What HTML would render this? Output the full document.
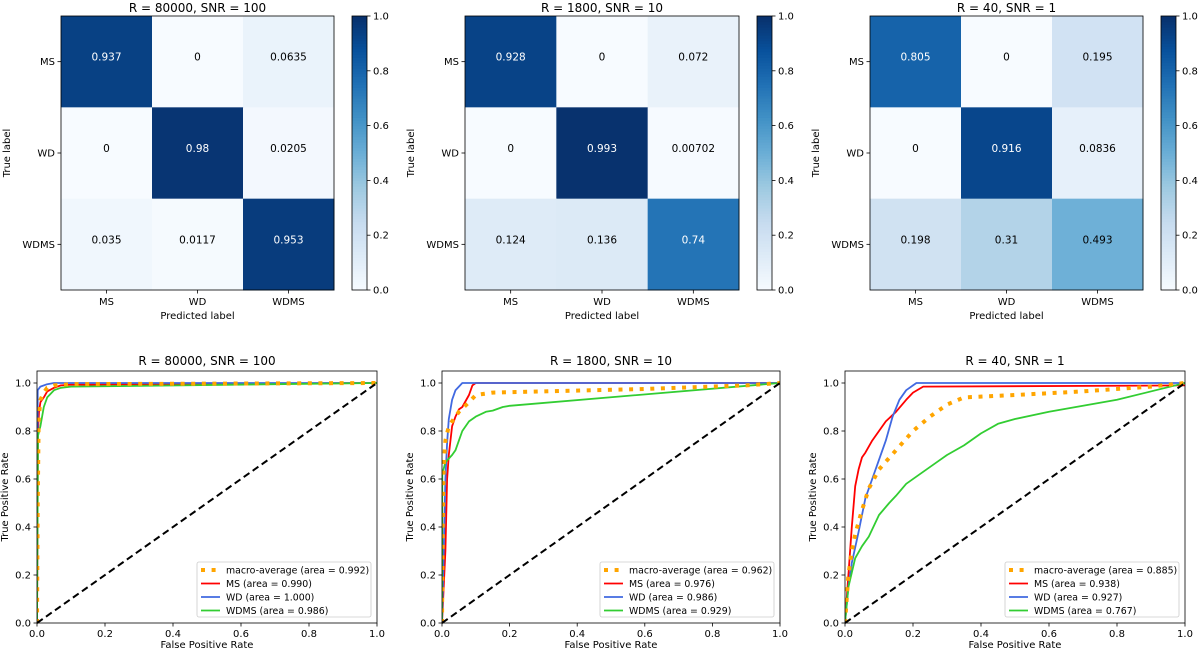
<!DOCTYPE html>
<html><head><meta charset="utf-8"><style>
body{margin:0;background:#fff;}
svg{display:block;font-family:"DejaVu Sans","Liberation Sans",sans-serif;}
</style></head><body>
<svg id="fig" width="1200" height="653" viewBox="0 0 1200 653"></svg>
<script>
// ---- Confusion matrix data ----
const cmLabels = ["MS","WD","WDMS"];
const cmTitles = ["R = 80000, SNR = 100","R = 1800, SNR = 10","R = 40, SNR = 1"];
const cm1 = [[0.937,0,0.0635],[0,0.98,0.0205],[0.035,0.0117,0.953]];
const cm2 = [[0.928,0,0.072],[0,0.993,0.00702],[0.124,0.136,0.74]];
const cm3 = [[0.805,0,0.195],[0,0.916,0.0836],[0.198,0.31,0.493]];
const cbTicks = [0,0.2,0.4,0.6,0.8,1.0];
// ---- ROC data ----
const rocTicks = [0,0.2,0.4,0.6,0.8,1.0];
const p1MacroX=[0,0.002,0.005,0.01,0.02,0.03,0.05,0.1,1];
const p1MacroY=[0,0.5,0.85,0.93,0.96,0.98,0.99,0.995,1];
const p1MsX=[0,0.003,0.006,0.01,0.02,0.03,0.05,0.07,0.1,1];
const p1MsY=[0,0.8,0.88,0.92,0.94,0.965,0.98,0.99,0.993,1];
const p1WdX=[0,0.002,0.01,0.03,0.05,1];
const p1WdY=[0,0.97,0.985,0.995,1,1];
const p1WdmsX=[0,0.003,0.01,0.02,0.03,0.05,0.07,0.1,1];
const p1WdmsY=[0,0.78,0.82,0.9,0.94,0.97,0.98,0.985,1];
const p1Areas=["0.992","0.990","1.000","0.986"];
const p2MacroX=[0,0.002,0.005,0.01,0.02,0.03,0.05,0.08,0.1,0.15,0.3,0.6,0.9,1];
const p2MacroY=[0,0.4,0.65,0.76,0.82,0.84,0.88,0.92,0.95,0.96,0.965,0.975,0.99,1];
const p2MsX=[0,0.01,0.015,0.02,0.03,0.04,0.05,0.06,0.08,0.09,0.1,1];
const p2MsY=[0,0.3,0.6,0.7,0.82,0.86,0.89,0.9,0.95,0.99,1,1];
const p2WdX=[0,0.005,0.01,0.015,0.02,0.03,0.04,0.06,1];
const p2WdY=[0,0.3,0.6,0.75,0.85,0.93,0.97,1,1];
const p2WdmsX=[0,0.001,0.01,0.03,0.04,0.05,0.06,0.08,0.1,0.13,0.15,0.18,0.2,1];
const p2WdmsY=[0,0.62,0.67,0.7,0.72,0.76,0.8,0.84,0.86,0.88,0.885,0.9,0.905,1];
const p2Areas=["0.962","0.976","0.986","0.929"];
const p3MacroX=[0,0.01,0.02,0.03,0.05,0.07,0.1,0.15,0.2,0.25,0.3,0.35,0.5,0.7,0.9,1];
const p3MacroY=[0,0.2,0.3,0.37,0.47,0.56,0.64,0.72,0.8,0.86,0.91,0.94,0.95,0.965,0.985,1];
const p3MsX=[0,0.01,0.02,0.03,0.04,0.05,0.06,0.08,0.1,0.12,0.15,0.18,0.2,0.23,1];
const p3MsY=[0,0.2,0.4,0.57,0.64,0.69,0.71,0.76,0.8,0.84,0.88,0.93,0.96,0.985,0.99];
const p3WdX=[0,0.01,0.02,0.04,0.06,0.08,0.1,0.12,0.14,0.16,0.18,0.2,0.21,1];
const p3WdY=[0,0.15,0.25,0.38,0.52,0.6,0.68,0.76,0.86,0.93,0.97,0.99,1,1];
const p3WdmsX=[0,0.01,0.03,0.05,0.07,0.1,0.13,0.15,0.18,0.22,0.27,0.3,0.35,0.4,0.45,0.5,0.6,0.8,1];
const p3WdmsY=[0,0.15,0.27,0.32,0.36,0.45,0.5,0.53,0.58,0.62,0.67,0.7,0.74,0.79,0.83,0.85,0.88,0.93,1];
const p3Areas=["0.885","0.938","0.927","0.767"];

const svg=document.getElementById('fig');
const NS="http://www.w3.org/2000/svg";
function mk(tag,attrs,parent){const e=document.createElementNS(NS,tag);for(const k in attrs)e.setAttribute(k,attrs[k]);(parent||svg).appendChild(e);return e;}
function txt(s,x,y,size,anchor,parent,extra){const t=mk('text',Object.assign({x:x,y:y,'font-size':size,'text-anchor':anchor||'middle',fill:'#000'},extra||{}),parent);t.textContent=s;return t;}

const blues=[[247,251,255],[222,235,247],[198,219,239],[158,202,225],[107,174,214],[66,146,198],[33,113,181],[8,81,156],[8,48,107]];
function bluesColor(v){v=Math.max(0,Math.min(1,v));const p=v*8;const i=Math.min(7,Math.floor(p));const f=p-i;const a=blues[i],b=blues[i+1];
 return 'rgb('+a.map((c,k)=>Math.round(c+(b[k]-c)*f)).join(',')+')';}

function drawCM(data,title,L,R,cbL,idx){
 const T=16,B=290;const g=mk('g',{});
 
 
 const cw=(R-L)/3,ch=(B-T)/3;
 for(let r=0;r<3;r++)for(let c=0;c<3;c++){
  const v=data[r][c];
  const rc=mk('rect',{x:L+c*cw,y:T+r*ch,width:cw+0.5,height:ch+0.5,fill:bluesColor(v)},g);
  
  
  const t=txt(String(v),L+c*cw+cw/2,T+r*ch+ch/2-1,10.5,'middle',g,{fill:v>0.5?'#fff':'#000'});
  
  
 }
 mk('rect',{x:L,y:T,width:R-L,height:B-T,fill:'none',stroke:'#000','stroke-width':0.8},g);
 for(let i=0;i<3;i++){
  const xc=L+i*cw+cw/2,yc=T+i*ch+ch/2;
  mk('line',{x1:xc,y1:B,x2:xc,y2:B+3.5,stroke:'#000','stroke-width':0.8},g);
  txt(cmLabels[i],xc,B+15,10,'middle',g);
  mk('line',{x1:L,y1:yc,x2:L-3.5,y2:yc,stroke:'#000','stroke-width':0.8},g);
  txt(cmLabels[i],L-6,yc+3.5,10,'end',g);
 }
 const tt=txt(title,(L+R)/2,12,12,'middle',g);
 
 
 const xl=txt('Predicted label',(L+R)/2,319,10,'middle',g);
 
 
 const yl=txt('True label',0,0,10,'middle',g,{transform:'translate('+(L-51)+','+((T+B)/2)+') rotate(-90)'});
 
 
 const cb=mk('g',{},g);
 
 
 const cbW=15;
 for(let k=0;k<100;k++){
  mk('rect',{x:cbL,y:B-(k+1)*(B-T)/100,width:cbW,height:(B-T)/100+0.6,fill:bluesColor((k+0.5)/100)},cb);
 }
 mk('rect',{x:cbL,y:T,width:cbW,height:B-T,fill:'none',stroke:'#000','stroke-width':0.8},cb);
 cbTicks.forEach(tk=>{const y=B-tk*(B-T);
  mk('line',{x1:cbL+cbW,y1:y,x2:cbL+cbW+3.5,y2:y,stroke:'#000','stroke-width':0.8},cb);
  txt(tk.toFixed(1),cbL+cbW+6,y+3.5,10,'start',cb);});
}
drawCM(cm1,cmTitles[0],61,334,352,1);
drawCM(cm2,cmTitles[1],465,739,757,2);
drawCM(cm3,cmTitles[2],870,1143,1161,3);

function drawROC(L,R,title,series,areas,idx){
 const T=371,B=623,Y1=383;
 const sx=v=>L+v*(R-L), sy=v=>B-v*(B-Y1);
 const g=mk('g',{});
 
 
 const cp='clip'+idx;
 const d=mk('clipPath',{id:cp},g);mk('rect',{x:L,y:T,width:R-L,height:B-T},d);
 const cols=['orange','#ff0000','#4169e1','#32cd32'];
 const names=['macro-average','ms','wd','wdms'];
 const order=[1,2,3,0];
 order.forEach(si=>{const s=series[si];
  const pts=s[0].map((x,i)=>sx(x).toFixed(1)+','+sy(s[1][i]).toFixed(1)).join(' ');
  const attrs={points:pts,fill:'none',stroke:cols[si],'stroke-width':si==0?4:1.8,'clip-path':'url(#'+cp+')','stroke-linejoin':'round'};
  if(si==0)attrs['stroke-dasharray']='4,6.6';
  const pl=mk('polyline',attrs,g);
  
  
 });
 const diag=mk('line',{x1:sx(0),y1:sy(0),x2:sx(1),y2:sy(1),stroke:'#000','stroke-width':2,'stroke-dasharray':'7,4'},g);
 
 
 mk('rect',{x:L,y:T,width:R-L,height:B-T,fill:'none',stroke:'#000','stroke-width':0.8},g);
 rocTicks.forEach(tk=>{
  mk('line',{x1:sx(tk),y1:B,x2:sx(tk),y2:B+3.5,stroke:'#000','stroke-width':0.8},g);
  txt(tk.toFixed(1),sx(tk),B+14,10,'middle',g);
  mk('line',{x1:L,y1:sy(tk),x2:L-3.5,y2:sy(tk),stroke:'#000','stroke-width':0.8},g);
  txt(tk.toFixed(1),L-6,sy(tk)+3.5,10,'end',g);
 });
 const tt=txt(title,(L+R)/2,365,12,'middle',g);
 
 
 const xl=txt('False Positive Rate',(L+R)/2,648,10,'middle',g);
 
 
 const yl=txt('True Positive Rate',0,0,10,'middle',g,{transform:'translate('+(L-29)+','+((T+B)/2)+') rotate(-90)'});
 
 
 const lg=mk('g',{},g);
 
 
 const lw=174,lh=55,lx=R-6-lw,ly=B-6-lh;
 mk('rect',{x:lx,y:ly,width:lw,height:lh,rx:2,fill:'#fff','fill-opacity':0.8,stroke:'#ccc','stroke-width':0.8},lg);
 const labels=['macro-average','MS','WD','WDMS'];
 labels.forEach((lb,i)=>{const y=ly+8+i*13.5;
  const la={x1:lx+4,y1:y,x2:lx+23,y2:y,stroke:cols[i],'stroke-width':i==0?4:1.8};
  if(i==0)la['stroke-dasharray']='4,6.6';
  mk('line',la,lg);
  const t=txt(lb+' (area = '+areas[i]+')',lx+29,y+3.3,9.4,'start',lg);
  
  
 });
}
drawROC(37,377,cmTitles[0],[[p1MacroX,p1MacroY],[p1MsX,p1MsY],[p1WdX,p1WdY],[p1WdmsX,p1WdmsY]],p1Areas,1);
drawROC(442,780,cmTitles[1],[[p2MacroX,p2MacroY],[p2MsX,p2MsY],[p2WdX,p2WdY],[p2WdmsX,p2WdmsY]],p2Areas,2);
drawROC(845,1185,cmTitles[2],[[p3MacroX,p3MacroY],[p3MsX,p3MsY],[p3WdX,p3WdY],[p3WdmsX,p3WdmsY]],p3Areas,3);
</script>
</body></html>
